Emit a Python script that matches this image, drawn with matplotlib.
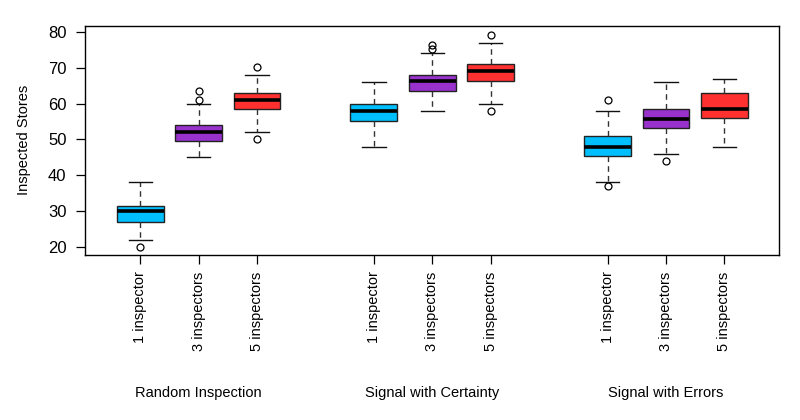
import numpy as np
import matplotlib
matplotlib.use("Agg")
import matplotlib.pyplot as plt
import matplotlib.transforms as mtransforms

plt.rcParams['font.family'] = ['Liberation Sans', 'DejaVu Sans']

groups = ["Random Inspection", "Signal with Certainty", "Signal with Errors"]
sizes = ["1 inspector", "3 inspectors", "5 inspectors"]
colors = ["#00BFFF", "#9932CC", "#FF3030"]

# per box: whisker low, q1, median, q3, whisker high
whislo = [22, 45, 52, 48, 58, 60, 38, 46, 48]
q1 = [27, 49.5, 58.5, 55, 63.6, 66.2, 45.4, 53.2, 56.1]
med = [30, 52, 61.1, 58, 66.2, 69.2, 48, 55.6, 58.5]
q3 = [31.4, 53.9, 62.9, 60, 68.1, 71.2, 50.9, 58.4, 62.9]
whishi = [38, 60, 68.1, 66.1, 74.1, 77, 58, 66.1, 67]
fliers = [[20], [61.1, 63.6], [70.2, 50], [], [75.2, 76.3],
          [79.2, 58], [61.1, 37], [44], []]

positions = [1, 2, 3, 5, 6, 7, 9, 10, 11]

stats = []
for i in range(len(positions)):
    stats.append(dict(whislo=whislo[i], q1=q1[i], med=med[i], q3=q3[i],
                      whishi=whishi[i], fliers=fliers[i]))

fig = plt.figure(figsize=(8, 4.2), dpi=100)
ax = fig.add_axes([0.1066, 0.393, 0.8675, 0.546])

bp = ax.bxp(stats, positions=positions, widths=0.8, patch_artist=True,
            boxprops=dict(edgecolor='#222222', linewidth=1.0),
            whiskerprops=dict(color='#333333', linestyle=(0, (4, 3)), linewidth=1.0),
            capprops=dict(color='#111111', linewidth=1.0),
            medianprops=dict(color='black', linewidth=2.6, solid_capstyle='butt'),
            flierprops=dict(marker='o', markerfacecolor='none', markeredgecolor='black',
                            markersize=5, markeredgewidth=0.9))
for i, box in enumerate(bp['boxes']):
    box.set_facecolor(colors[i % 3])
for cap in bp['caps']:
    x = cap.get_xdata()
    c = (x[0] + x[1]) / 2
    cap.set_xdata([c - 0.2, c + 0.2])

ax.set_xlim(0.06, 11.94)
ax.set_ylim(17.7, 81.8)
ax.set_yticks([20, 30, 40, 50, 60, 70, 80])
ax.set_xticks(positions)
ax.set_xticklabels(sizes * 3, rotation=90, fontsize=10.5)
ax.tick_params(axis='x', length=6.5, pad=5.5, width=0.9)
ax.tick_params(axis='y', length=6.5, pad=7, width=0.9, labelsize=12)
ax.set_ylabel("Inspected Stores", fontsize=10.5, labelpad=12)
for s in ax.spines.values():
    s.set_linewidth(1.0)

trans = mtransforms.blended_transform_factory(ax.transData, fig.transFigure)
for j, g in enumerate(groups):
    x = positions[3 * j + 1]
    ax.text(x, 1 - 393 / 420, g, transform=trans,
            ha='center', va='center', fontsize=10.5)

fig.savefig("out.png", dpi=100)
